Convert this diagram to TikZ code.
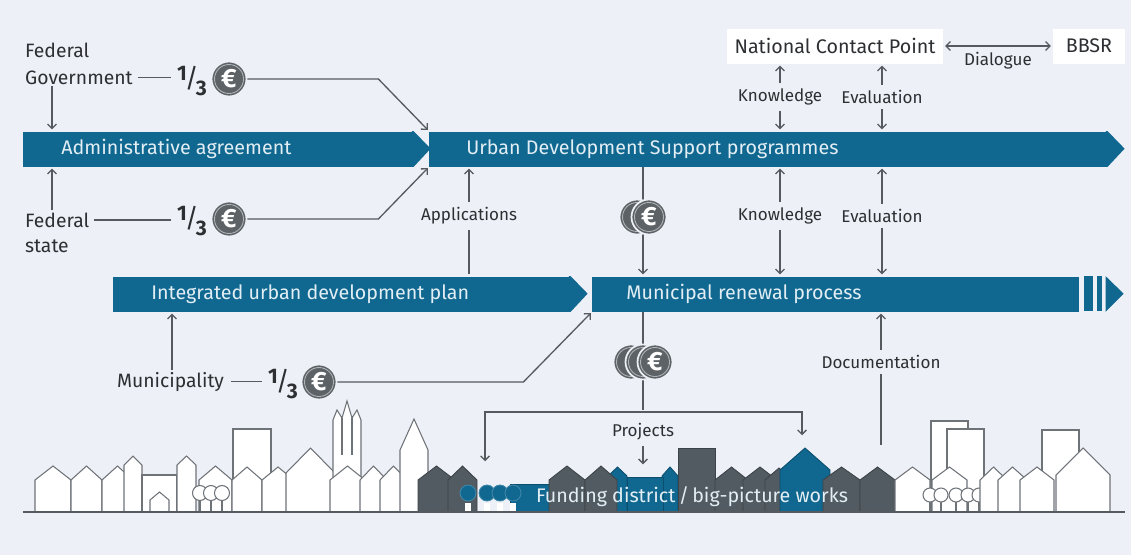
\documentclass[tikz,border=0pt]{standalone}
\usepackage{fontspec}
\setmainfont{Fira Sans}
\usetikzlibrary{positioning}
\usetikzlibrary{arrows.meta}

\definecolor{bgcol}{RGB}{237,241,247}
\definecolor{bandblue}{RGB}{16,104,145}
\definecolor{bandtext}{RGB}{226,238,244}
\definecolor{linegrey}{RGB}{85,90,95}
\definecolor{textgrey}{RGB}{45,47,50}
\definecolor{coingrey}{RGB}{92,98,102}
\definecolor{coinring}{RGB}{175,180,184}
\definecolor{darkgrey}{RGB}{82,91,97}
\definecolor{housegrey}{RGB}{110,115,120}

\newcommand\third{\raisebox{.6ex}{\bfseries 1}\kern-.1em{\fontsize{15}{15}\selectfont\mdseries /}\kern-.12em\raisebox{-.8ex}{\bfseries 3}}

\tikzset{
  band/.style={fill=bandblue, minimum height=0.7cm, inner sep=0pt, anchor=west},
  bandlabel/.style={text=bandtext, font=\fontsize{11.2}{13}\selectfont, inner sep=0pt},
  lbl/.style={text=textgrey, font=\fontsize{11}{13}\selectfont, inner sep=1pt, anchor=base west},
  small/.style={text=textgrey, font=\fontsize{9.7}{12}\selectfont, inner sep=3pt},
  frac/.style={text=textgrey, font=\fontsize{12}{12}\selectfont, inner sep=2pt},
  box/.style={fill=white, minimum height=0.7cm, inner sep=0pt, text=textgrey, font=\fontsize{11.2}{13}\selectfont},
  conn/.style={draw=linegrey, line width=0.75pt, shorten >=1pt},
  coin/.style={circle, fill=coingrey, draw=bgcol, line width=1pt, minimum size=0.7cm, inner sep=0pt,
    text=white, font=\bfseries\fontsize{15}{15}\selectfont,
    path picture={\draw[coinring, line width=0.5pt] (path picture bounding box.center) circle [radius=0.29cm];}},
  whitehouse/.style={fill=white, draw=housegrey, line width=0.6pt},
  darkhouse/.style={fill=darkgrey, draw=darkgrey!75!black, line width=0.5pt},
  bluehouse/.style={fill=bandblue, draw=bandblue!75!black, line width=0.5pt},
}

\begin{document}
\begin{tikzpicture}[x=0.02cm, y=-0.02cm, >={Straight Barb[length=2.5pt,width=5pt]}]
  % background, also fixes the page size
  \fill[bgcol] (0,0) rectangle (1131,555);
  \useasboundingbox (0,0) rectangle (1131,555);

  % the four process bands
  \node[band, minimum width=7.8cm] (adm) at (23,149) {};
  \node[band, minimum width=13.56cm] (usp) at (429,149) {};
  \node[band, minimum width=9.14cm] (iudp) at (113,294) {};
  \node[band, minimum width=9.74cm] (mrp) at (592,294) {};
  \foreach \b in {adm,usp,iudp}
    \fill[bandblue] ([xshift=-1pt]\b.north east) -- (\b.north east) -- ++(17,17.5) -- (\b.south east)
      -- ([xshift=-1pt]\b.south east) -- cycle;
  % the renewal process keeps going
  \fill[bandblue] ([xshift=0.08cm]mrp.north east) rectangle ++(9,35);
  \fill[bandblue] ([xshift=0.34cm]mrp.north east) rectangle ++(5,35);
  \fill[bandblue] ([xshift=0.52cm]mrp.north east) -- ++(18,17.5) -- ([xshift=0.52cm]mrp.south east) -- cycle;

  \node[bandlabel, right=0.76cm of adm.west] {Administrative agreement};
  \node[bandlabel, right=0.74cm of usp.west] {Urban Development Support programmes};
  \node[bandlabel, right=0.76cm of iudp.west] {Integrated urban development plan};
  \node[bandlabel, right=0.68cm of mrp.west] {Municipal renewal process};

  % the three partners and their thirds
  \node[lbl] (fedg) at (23,57) {Federal};
  \node[lbl] (gov) at (23,84) {Government};
  \node[lbl] (fst) at (23,227) {Federal};
  \node[lbl] (sta) at (23,252) {state};
  \node[lbl] (mun) at (115,387) {Municipality};

  \node[frac] (f1) at (192,81) {\third};
  \node[frac] (f2) at (192,221) {\third};
  \node[frac] (f3) at (283,384) {\third};
  \node[coin] (e1) at (229,79) {€};
  \node[coin] (e2) at (229,219) {€};
  \node[coin] (e3) at (319,382) {€};

  \draw[conn] (gov.east) ++(3,0) -- (gov.east -| f1.west);
  \draw[conn] (fst.east) ++(3,0) -- (fst.east -| f2.west);
  \draw[conn] (mun.east) ++(5,0) -- (mun.east -| f3.west);
  \draw[conn,->] (e1.east) -- ++(131,0) -- (usp.north west);
  \draw[conn,->] (e2.east) -- ++(131,0) -- (usp.south west);
  \draw[conn,->] (e3.east) -- ++(186,0) -- (mrp.south west);

  \draw[conn,->] ([xshift=0.58cm]gov.south west) -- ([xshift=0.58cm]gov.south west |- adm.north);
  \draw[conn,->] ([xshift=0.58cm]fst.north west) -- ([xshift=0.58cm]fst.north west |- adm.south);
  \draw[conn,->] ([xshift=1.14cm]mun.north west) -- ([xshift=1.14cm]mun.north west |- iudp.south);

  % applications go up
  \node[small] (app) at (469,216) {Applications};
  \draw[conn] (app.south) -- (app.south |- iudp.north);
  \draw[conn,->] (app.north) -- (app.north |- usp.south);

  % contact point and BBSR
  \node[box, minimum width=4.32cm] (ncp) at (835,46) {National Contact Point};
  \node[box, minimum width=1.44cm] (bbsr) at (1089,46) {BBSR};
  \draw[conn,<->, shorten <=1pt] (ncp) -- (bbsr) node[small, midway, below=0pt] {Dialogue};

  \node[small] (kn1) at (780,97) {Knowledge};
  \node[small] (ev1) at (882,97) {Evaluation};
  \node[small] (kn2) at (780,216) {Knowledge};
  \node[small] (ev2) at (882,216) {Evaluation};
  \foreach \n in {kn1,ev1} {
    \draw[conn,->] (\n.north) -- (\n.north |- ncp.south);
    \draw[conn,->] (\n.south) -- (\n.south |- usp.north);
  }
  \foreach \n in {kn2,ev2} {
    \draw[conn,->] (\n.north) -- (\n.north |- usp.south);
    \draw[conn,->] (\n.south) -- (\n.south |- mrp.north);
  }

  % money flows down into the projects
  \coordinate (cash) at (643,217);
  \coordinate (cash2) at (643,362);
  \coordinate (split) at (643,412);
  \coordinate (pleft) at (485,463);
  \coordinate (pright) at (802,437);
  \draw[conn] (cash |- usp.south) -- (cash);
  \draw[conn,->] (cash) -- (cash |- mrp.north);
  \draw[conn] (cash2 |- mrp.south) -- (split);
  \draw[conn,->] (split) -| (pleft);
  \draw[conn,->] (split) -| (pright);
  \node[small] (proj) at (643,432) {Projects};
  \draw[conn,->] (proj.south) -- ++(0,20);

  \node[coin] (c1b) at ([xshift=-0.12cm]cash) {};
  \node[coin] (c1) at ([xshift=0.12cm]cash) {€};
  \node[coin] (c2b) at ([xshift=-0.24cm]cash2) {};
  \node[coin] (c2m) at (cash2) {};
  \node[coin] (c2) at ([xshift=0.24cm]cash2) {€};

  \node[small] (doc) at (881,362) {Documentation};
  \draw[conn,->] (doc.north) -- (doc.north |- mrp.south);
  \draw[conn] (doc.south) -- ++(0,72);

  % ---- the town ----
  % left part
  \foreach \a/\b/\e/\p in {35/71/480/466, 71/102/480/466, 102/133/480/466, 124/142/465/456}
    \draw[whitehouse] (\a,512) -- (\a,\e) -- ({(\a+\b)/2},\p) -- (\b,\e) -- (\b,512) -- cycle;
  \draw[whitehouse] (142,512) rectangle (177,475);
  \foreach \a/\b/\e/\p in {150/169/500/492, 177/196/465/456, 199/232/480/466}
    \draw[whitehouse] (\a,512) -- (\a,\e) -- ({(\a+\b)/2},\p) -- (\b,\e) -- (\b,512) -- cycle;
  \foreach \x in {200,211,222} {
    \draw[whitehouse] (\x,500) -- (\x,512);
    \draw[whitehouse] (\x,493) circle [radius=7.5];
  }
  \draw[whitehouse] (233,512) rectangle (271,429);
  \foreach \a/\b/\e/\p in {232/262/480/467, 262/294/480/467, 286/335/473/448}
    \draw[whitehouse] (\a,512) -- (\a,\e) -- ({(\a+\b)/2},\p) -- (\b,\e) -- (\b,512) -- cycle;
  % church tower
  \draw[whitehouse] (333,512) -- (333,420) -- (337,410) -- (342,418) -- (347,401) -- (352,418)
    -- (357,410) -- (361,420) -- (361,512) -- cycle;
  \draw[whitehouse] (342,418) -- (342,455) (352,418) -- (352,455);
  \foreach \a/\b/\e/\p in {330/365/480/466, 360/387/480/466, 380/407/480/466}
    \draw[whitehouse] (\a,512) -- (\a,\e) -- ({(\a+\b)/2},\p) -- (\b,\e) -- (\b,512) -- cycle;
  \draw[whitehouse] (400,512) -- (400,450) -- (414,419) -- (428,450) -- (428,512) -- cycle;

  % funding district
  \foreach \a/\b/\e/\p in {418/455/480/466, 448/477/480/466}
    \draw[darkhouse] (\a,512) -- (\a,\e) -- ({(\a+\b)/2},\p) -- (\b,\e) -- (\b,512) -- cycle;
  \draw[bluehouse] (510,512) rectangle (550,484);
  \foreach \x in {468,487,500,513} {
    \fill[white] (\x-3,503) rectangle (\x+3,512);
    \draw[bluehouse, draw=bandblue!80!white] (\x,493) circle [radius=8];
  }
  \foreach \a/\b/\e/\p in {608/627/476/467, 662/678/476/467}
    \draw[bluehouse] (\a,512) -- (\a,\e) -- ({(\a+\b)/2},\p) -- (\b,\e) -- (\b,512) -- cycle;
  \draw[bluehouse] (627,512) rectangle (663,477);
  \foreach \a/\b/\e/\p in {549/585/480/466, 585/617/480/466}
    \draw[darkhouse] (\a,512) -- (\a,\e) -- ({(\a+\b)/2},\p) -- (\b,\e) -- (\b,512) -- cycle;
  \draw[darkhouse] (678,512) rectangle (715,448);
  \foreach \a/\b/\e/\p in {715/748/480/467, 743/777/480/467, 765/793/480/468}
    \draw[darkhouse] (\a,512) -- (\a,\e) -- ({(\a+\b)/2},\p) -- (\b,\e) -- (\b,512) -- cycle;
  \draw[bluehouse] (780,512) -- (780,470) -- (805,448) -- (830,470) -- (830,512) -- cycle;
  \foreach \a/\b/\e/\p in {823/860/480/467, 860/895/480/467}
    \draw[darkhouse] (\a,512) -- (\a,\e) -- ({(\a+\b)/2},\p) -- (\b,\e) -- (\b,512) -- cycle;
  \node[text=bandtext, font=\fontsize{11.2}{13}\selectfont, inner sep=0pt] (fund) at (692,497)
    {Funding district\,/\,big-picture works};

  % right part
  \draw[whitehouse] (931,512) rectangle (968,421);
  \draw[whitehouse] (947,512) rectangle (984,429);
  \foreach \a/\b/\e/\p in {895/930/480/467, 932/967/480/467}
    \draw[whitehouse] (\a,512) -- (\a,\e) -- ({(\a+\b)/2},\p) -- (\b,\e) -- (\b,512) -- cycle;
  \foreach \x in {930,941,956,968,979} {
    \draw[whitehouse] (\x,502) -- (\x,512);
    \draw[whitehouse] (\x,495) circle [radius=7];
  }
  \foreach \a/\b/\e/\p in {980/1007/480/467, 998/1027/480/467}
    \draw[whitehouse] (\a,512) -- (\a,\e) -- ({(\a+\b)/2},\p) -- (\b,\e) -- (\b,512) -- cycle;
  \draw[whitehouse] (1042,512) rectangle (1079,430);
  \foreach \a/\b/\e/\p in {1020/1054/480/467, 1056/1110/475/448}
    \draw[whitehouse] (\a,512) -- (\a,\e) -- ({(\a+\b)/2},\p) -- (\b,\e) -- (\b,512) -- cycle;

  % ground
  \draw[linegrey, line width=1pt] (23,512) -- (1125,512);
\end{tikzpicture}
\end{document}
